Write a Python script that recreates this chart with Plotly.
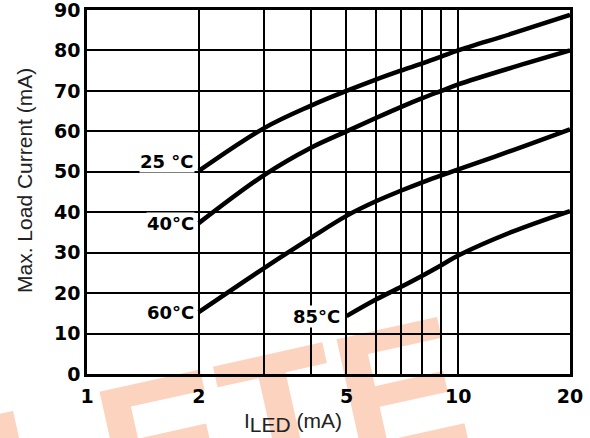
import math
import plotly.graph_objects as go

# Data
i_led_25 = [2, 3, 4, 5, 6, 7, 8, 9, 10, 14, 20]
load_25 = [50.2, 60.8, 66.3, 70, 72.8, 75, 76.8, 78.5, 80, 84.2, 88.8]

i_led_40 = [2, 3, 4, 5, 6, 7, 8, 9, 10, 14, 20]
load_40 = [37.3, 49.2, 55.9, 60, 63.3, 66, 68.2, 70, 71.6, 75.8, 80]

i_led_60 = [2, 3, 4, 5, 6, 7, 8, 9, 10, 14, 20]
load_60 = [15.3, 26.2, 33.6, 39.1, 42.7, 45.3, 47.4, 49.1, 50.6, 55.3, 60.5]

i_led_85 = [5, 6, 7, 8, 9, 10, 14, 20]
load_85 = [14.3, 18.4, 21.5, 24.3, 26.9, 29.3, 35.2, 40.3]

series = [
    ("25 °C", i_led_25, load_25, 9, -4),
    ("40°C", i_led_40, load_40, 0, -4),
    ("60°C", i_led_60, load_60, 0, -4),
    ("85°C", i_led_85, load_85, 0, -5),
]

x_major = [1, 2, 5, 10, 20]
x_major_text = ["1", "2", "5", "10", "20"]
x_minor = [3, 4, 6, 7, 8, 9]
y_ticks = [0, 10, 20, 30, 40, 50, 60, 70, 80, 90]

FONT = "Liberation Sans, Arial, sans-serif"
BOLD = "DejaVu Sans, sans-serif"

fig = go.Figure()
for name, xs, ys, ysh, xsh in series:
    fig.add_trace(go.Scatter(
        x=xs, y=ys, mode="lines", name=name,
        line=dict(color="black", width=4.5, shape="spline", smoothing=1.0),
        showlegend=False, hoverinfo="skip",
    ))
    fig.add_annotation(
        x=math.log10(xs[0]), y=ys[0], xref="x", yref="y",
        text=name, showarrow=False, xanchor="right", yanchor="middle",
        xshift=xsh, yshift=ysh, bgcolor="white", borderpad=0,
        font=dict(family=BOLD, size=18, color="black", weight="bold"),
    )

# Watermark text (behind the grid)
fig.add_shape(
    type="rect", xref="paper", yref="paper",
    x0=-0.338, x1=-0.238, y0=-0.303, y1=-0.243,
    line=dict(width=0), fillcolor="rgba(0,0,0,0)", layer="below",
    label=dict(text="OBSOLETE", textangle=-12.5, textposition="middle center",
               font=dict(family=FONT, size=190, color="#FCD3BE", weight="bold")),
)

# Axis titles
fig.add_annotation(
    x=(242 - 87) / 483, y=-0.09, xref="paper", yref="paper",
    text='I<sub><span style="font-size:21px">LED</span></sub> (mA)',
    showarrow=False, xanchor="left", yanchor="top",
    font=dict(family=FONT, size=21, color="#222"),
)
fig.add_annotation(
    x=(24 - 87) / 483, y=(374 - 181) / 364, xref="paper", yref="paper",
    text="Max. Load Current (mA)", textangle=-90,
    showarrow=False, xanchor="center", yanchor="middle",
    font=dict(family=FONT, size=21, color="#222"),
)

fig.update_xaxes(
    type="log", range=[0, math.log10(20)], automargin=False,
    tickvals=x_major, ticktext=x_major_text, ticks="",
    showgrid=True, gridcolor="black", gridwidth=1.5,
    minor=dict(tickvals=x_minor, showgrid=True, gridcolor="black", gridwidth=1.5, ticks=""),
    showline=True, linecolor="black", linewidth=2.5, mirror=True,
    tickfont=dict(family=BOLD, size=19, color="black", weight="bold"),
    ticklabelstandoff=3, ticklabeloverflow="allow",
)
fig.update_yaxes(
    range=[0, 90], tickvals=y_ticks, ticks="", automargin=False,
    showgrid=True, gridcolor="black", gridwidth=1.5, zeroline=False,
    showline=True, linecolor="black", linewidth=2.5, mirror=True,
    tickfont=dict(family=BOLD, size=19, color="black", weight="bold"),
    ticklabeloverflow="allow",
)

fig.update_layout(
    width=590, height=438,
    margin=dict(l=87, r=20, t=10, b=64, autoexpand=False),
    paper_bgcolor="white", plot_bgcolor="rgba(0,0,0,0)",
)

fig.write_html(
    "out.html",
    config={"displayModeBar": False},
    post_script="document.body.style.margin='0';document.body.style.overflow='hidden';",
)
